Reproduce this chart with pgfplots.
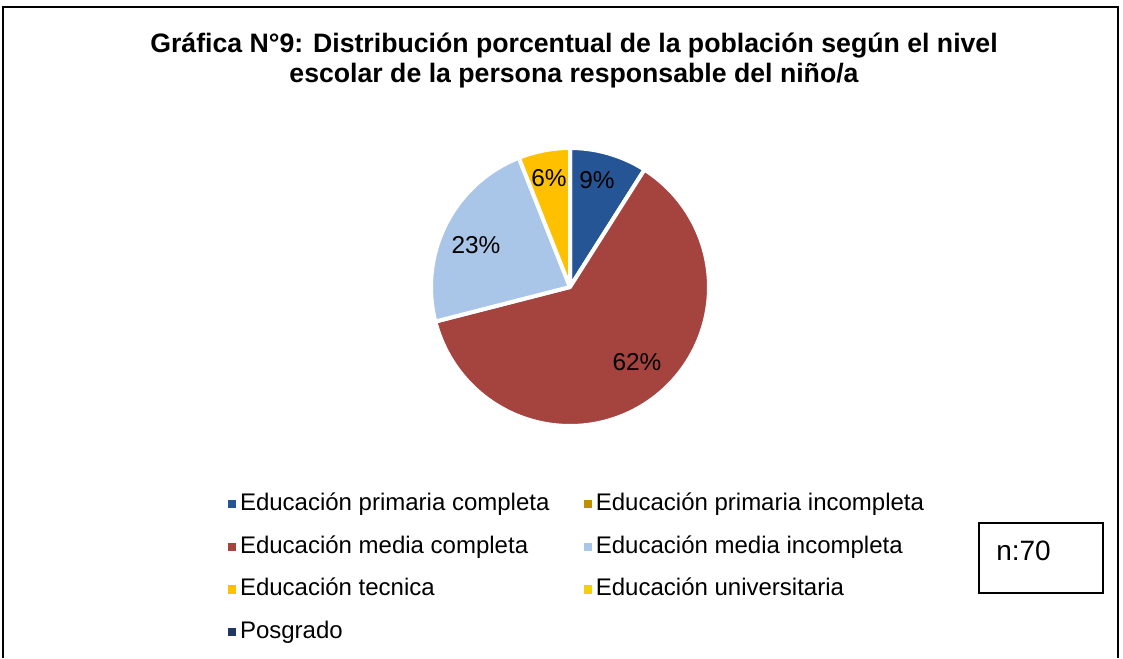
\documentclass[border=0pt]{standalone}
\usepackage{pgfplots}
\pgfplotsset{compat=1.18}
\usepackage{fontspec}
\setmainfont{Liberation Sans}
\definecolor{cPC}{HTML}{255594}
\definecolor{cPI}{HTML}{BF9000}
\definecolor{cMC}{HTML}{A5433F}
\definecolor{cMI}{HTML}{A9C6E8}
\definecolor{cTE}{HTML}{FFC000}
\definecolor{cUN}{HTML}{F2D00F}
\definecolor{cPO}{HTML}{1F3864}
% data (percent)
\def\vPC{9}\def\vPI{0}\def\vMC{62}\def\vMI{23}\def\vTE{6}\def\vUN{0}\def\vPO{0}
\pgfmathsetmacro{\aA}{90}
\pgfmathsetmacro{\aB}{\aA-3.6*\vPC}
\pgfmathsetmacro{\aC}{\aB-3.6*\vPI}
\pgfmathsetmacro{\aD}{\aC-3.6*\vMC}
\pgfmathsetmacro{\aE}{\aD-3.6*\vMI}
\pgfmathsetmacro{\aF}{\aE-3.6*\vTE}
\def\cx{570}\def\cy{371}\def\rr{139}
\begin{document}
\begin{tikzpicture}
\begin{axis}[
  scale only axis, x=0.75pt, y=0.75pt,
  xmin=0, xmax=1123, ymin=0, ymax=658,
  hide axis, clip=false,
  legend columns=2,
  legend cell align=left,
  legend style={draw=none, fill=none, at={(axis cs:228,169)}, anchor=north west,
    font=\fontsize{18}{22}\selectfont, inner sep=0pt, row sep=10pt,
    /tikz/every even column/.append style={column sep=23pt},
    nodes={inner xsep=3pt, inner ysep=1pt, text height=15pt, text depth=5pt}},
  legend image code/.code={\fill[#1] (0pt,-2.7pt) rectangle (5.4pt,2.7pt);},
]
\addplot[fill=cPC, draw=white, line width=3pt, line join=round, domain=\aB:\aA, samples=30, forget plot]
  ({\cx+\rr*cos(x)},{\cy+\rr*sin(x)}) -- (axis cs:\cx,\cy) -- cycle;
\addplot[fill=cMC, draw=white, line width=3pt, line join=round, domain=\aD:\aC, samples=120, forget plot]
  ({\cx+\rr*cos(x)},{\cy+\rr*sin(x)}) -- (axis cs:\cx,\cy) -- cycle;
\addplot[fill=cMI, draw=white, line width=3pt, line join=round, domain=\aE:\aD, samples=50, forget plot]
  ({\cx+\rr*cos(x)},{\cy+\rr*sin(x)}) -- (axis cs:\cx,\cy) -- cycle;
\addplot[fill=cTE, draw=white, line width=3pt, line join=round, domain=\aF:\aE, samples=20, forget plot]
  ({\cx+\rr*cos(x)},{\cy+\rr*sin(x)}) -- (axis cs:\cx,\cy) -- cycle;
\addlegendimage{cPC}
\addlegendimage{cPI}
\addlegendimage{cMC}
\addlegendimage{cMI}
\addlegendimage{cTE}
\addlegendimage{cUN}
\addlegendimage{cPO}
\legend{Educación primaria completa, Educación primaria incompleta, Educación media completa, Educación media incompleta, Educación tecnica, Educación universitaria, Posgrado}
% labels
\node[font=\fontsize{18.3}{20}\selectfont] at (axis cs:597,478) {9\%};
\node[font=\fontsize{18.3}{20}\selectfont] at (axis cs:549,480) {6\%};
\node[font=\fontsize{18.3}{20}\selectfont] at (axis cs:476,413) {23\%};
\node[font=\fontsize{18.3}{20}\selectfont] at (axis cs:637,296) {62\%};
% title
\node[font=\bfseries\fontsize{20}{22.5}\selectfont, align=center] at (axis cs:574,598)
  {Gráfica N°9: Distribución porcentual de la población según el nivel\\escolar de la persona responsable del niño/a};
% n box
\draw[line width=1.2pt] (axis cs:979,65) rectangle (axis cs:1103,135);
\node[font=\fontsize{21}{22}\selectfont, anchor=west, inner sep=0pt] at (axis cs:996,107) {n:70};
% frame
\draw[line width=1.1pt, line cap=butt] (axis cs:3,0) -- (axis cs:3,651) -- (axis cs:1118,651) -- (axis cs:1118,0);
\end{axis}
\pgfresetboundingbox
\path[use as bounding box] (0,0) rectangle (842.25pt,493.5pt);
\end{tikzpicture}
\end{document}
